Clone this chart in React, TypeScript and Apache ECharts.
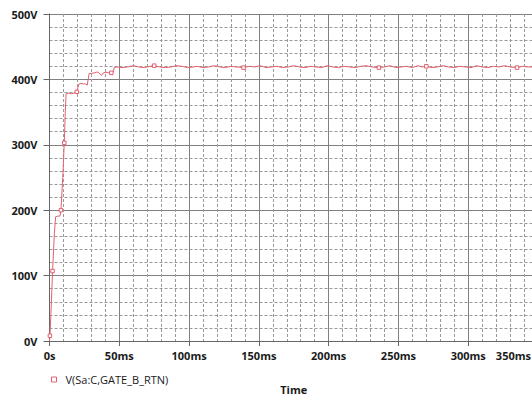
import React, { useEffect, useRef } from "react";
import * as echarts from "echarts";

// Time (ms) and voltage (V)
const timeMs = [
  0, 0.3, 1.0, 2.2, 3.5, 4.4, 6.0, 7.5, 8.2, 9.5, 10.6, 11.3, 11.9, 13.5, 15.5, 17.5, 19.6, 20.4, 21.2, 22.5, 24.5,
  26.2, 27.0, 27.7, 28.4, 30.0, 32.0, 33.5, 35.0, 36.3, 37.2, 38.6, 40.5, 42.5, 44.3, 45.6, 46.4, 48.0,
  52, 56, 60, 64, 68, 72, 75, 79, 83, 87, 91, 95, 99, 103, 106, 110, 114, 118, 122, 126, 130, 134, 139,
  143, 147, 151, 155, 159, 163, 167, 171, 175, 179, 183, 187, 191, 195, 199, 203, 207, 211, 215, 219,
  223, 227, 231, 236, 240, 244, 248, 252, 256, 260, 264, 267, 270, 274, 278, 282, 286, 290, 294, 298,
  302, 306, 310, 314, 318, 322, 326, 330, 335, 339, 343, 347, 350,
];
const volts = [
  0, 8, 40, 107, 165, 190, 191, 191, 200, 250, 303, 350, 378, 379, 378, 379, 381, 388, 393, 394, 393,
  393, 391, 400, 409, 409, 410, 411, 411, 408, 406, 410, 411, 410, 410, 411, 418, 419,
  418, 419, 421, 419, 418, 420, 421, 419, 418, 419, 421, 420, 418, 419, 420, 418, 419, 421, 419, 418, 420,
  419, 418, 420, 419, 421, 418, 419, 420, 418, 419, 421, 419, 418, 420, 419, 418, 421, 419, 418, 420,
  419, 418, 420, 421, 419, 418, 419, 421, 418, 419, 420, 418, 421, 419, 420, 418, 419, 421, 419, 418,
  420, 419, 418, 421, 419, 418, 420, 419, 421, 419, 418, 420, 419, 419,
];
// Times (ms) at which the trace carries a square marker
const markerTimes = [0.3, 2.2, 8.2, 10.6, 19.6, 44.3, 75, 139, 236, 270, 335];

const xTicksMs = [0, 50, 100, 150, 200, 250, 300, 350];
const yTicksV = [0, 100, 200, 300, 400, 500];

const seriesName = "V(Sa:C,GATE_B_RTN)";
const RED = "#e4606f";

export default function App() {
  const ref = useRef<HTMLDivElement>(null);
  useEffect(() => {
    if (!ref.current) return;
    const chart = echarts.init(ref.current, null, { renderer: "svg" });
    const data = timeMs.map((t, i) => ({
      value: [t, volts[i]],
      symbol: markerTimes.includes(t) ? "rect" : "none",
    }));
    const labelFont = {
      color: "#1a1a1a",
      fontFamily: "Open Sans",
      fontWeight: "bold" as const,
      fontSize: 11,
    };
    const xMax = xTicksMs[xTicksMs.length - 1];
    chart.setOption({
      animation: false,
      backgroundColor: "#ffffff",
      grid: { left: 49.5, right: 22, top: 14, bottom: 52, containLabel: false },
      legend: {
        data: [{ name: seriesName, icon: "rect" }],
        left: 46,
        top: 369,
        itemWidth: 5,
        itemHeight: 5,
        itemStyle: { color: "#ffffff", borderColor: RED, borderWidth: 1 },
        textStyle: { color: "#1a1a1a", fontFamily: "Open Sans", fontSize: 11, padding: [0, 0, 0, 4] },
      },
      xAxis: {
        type: "value",
        min: xTicksMs[0],
        max: xMax,
        interval: 50,
        name: "Time",
        nameLocation: "middle",
        nameGap: 43,
        nameTextStyle: { ...labelFont },
        axisLine: { show: true, lineStyle: { color: "#666", width: 1 } },
        axisTick: { show: true, length: 5, lineStyle: { color: "#666" } },
        axisLabel: {
          ...labelFont,
          margin: 9,
          alignMaxLabel: "right",
          formatter: (v: number) => (v === 0 ? "0s" : v === xMax ? `{last|${v}ms}` : `${v}ms`),
          rich: {
            last: { ...labelFont, padding: [0, 7, 0, 0] },
          },
        },
        splitLine: { show: true, lineStyle: { color: "#808080", width: 1 } },
        minorTick: { show: false, splitNumber: 5 },
        minorSplitLine: { show: true, lineStyle: { color: "#9a9a9a", type: [3, 2], width: 1 } },
      },
      yAxis: {
        type: "value",
        min: yTicksV[0],
        max: yTicksV[yTicksV.length - 1],
        interval: 100,
        axisLine: { show: true, lineStyle: { color: "#666", width: 1 } },
        axisTick: { show: true, length: 6, lineStyle: { color: "#666" } },
        axisLabel: { ...labelFont, margin: 12, formatter: (v: number) => `${v}V` },
        splitLine: { show: true, lineStyle: { color: "#808080", width: 1 } },
        minorTick: { show: false, splitNumber: 5 },
        minorSplitLine: { show: true, lineStyle: { color: "#9a9a9a", type: [3, 2], width: 1 } },
      },
      series: [
        {
          name: seriesName,
          type: "line",
          data,
          showSymbol: true,
          showAllSymbol: true,
          symbolSize: 3.5,
          lineStyle: { color: RED, width: 1 },
          itemStyle: { color: "#ffffff", borderColor: RED, borderWidth: 1 },
          emphasis: { disabled: true },
        },
      ],
    });
    return () => chart.dispose();
  }, []);
  return (
    <div style={{ position: "fixed", left: 0, top: 0, width: 532, height: 400, overflow: "hidden", background: "#fff" }}>
      <div ref={ref} style={{ width: 560, height: 400 }} />
    </div>
  );
}
